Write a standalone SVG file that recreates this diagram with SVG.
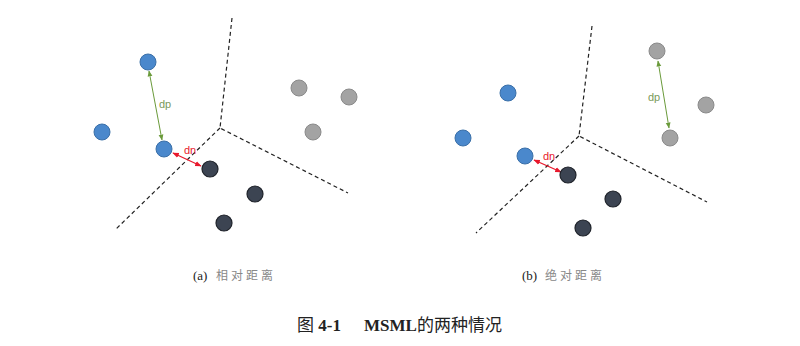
<svg xmlns="http://www.w3.org/2000/svg" width="800" height="346" viewBox="0 0 800 346">
<defs>
<style>
.bg{fill:#ffffff}
.div{fill:none;stroke:#222;stroke-width:1.2;stroke-dasharray:4 3}
.blue{fill:#4a88cc;stroke:#3a6fa8;stroke-width:1}
.gray{fill:#a3a3a3;stroke:#8a8a8a;stroke-width:1}
.dark{fill:#3c4452;stroke:#1f232a;stroke-width:1.2}
.dp{stroke:#6a9a3a;stroke-width:1;fill:none}
.dn{stroke:#e8182c;stroke-width:1.3;fill:none}
.lp{font-family:"Liberation Sans",sans-serif;font-size:11px;fill:#7a9a5a}
.ln{font-family:"Liberation Sans",sans-serif;font-size:11px;fill:#e8182c}
.cap{font-family:"Liberation Serif","Noto Sans CJK SC",serif;font-size:13px;fill:#222}
.capz{font-family:"Noto Sans CJK SC",sans-serif;font-size:12px;fill:#888}
.fig{font-family:"Liberation Serif","Noto Sans CJK SC",serif;font-size:17px;fill:#222}
</style>
<marker id="ag" viewBox="0 0 10 10" refX="9" refY="5" markerWidth="6" markerHeight="6" orient="auto-start-reverse"><path d="M0,1 L10,5 L0,9 z" fill="#6a9a3a"/></marker>
<marker id="ar" viewBox="0 0 10 10" refX="9" refY="5" markerWidth="5" markerHeight="5" orient="auto-start-reverse"><path d="M0,1 L10,5 L0,9 z" fill="#e8182c"/></marker>
</defs>
<rect class="bg" width="800" height="346"/>

<g id="panel-a-boundaries">
<polyline class="div" points="232,18 220,128 348,193"/>
<line class="div" x1="220" y1="128" x2="115" y2="230"/>
</g>
<g id="connectors-a">
<line class="dp" x1="149" y1="71" x2="162" y2="140" marker-start="url(#ag)" marker-end="url(#ag)"/>
<line class="dn" x1="173" y1="153" x2="201" y2="166" marker-start="url(#ar)" marker-end="url(#ar)"/>
<text class="lp" x="159" y="108">dp</text>
<text class="ln" x="184" y="154">dn</text>
</g>
<g id="a-blue1"><circle class="blue" cx="148" cy="62" r="8"/></g>
<g id="a-blue2"><circle class="blue" cx="102" cy="132" r="8"/></g>
<g id="a-blue3"><circle class="blue" cx="164" cy="149" r="8"/></g>
<g id="a-gray1"><circle class="gray" cx="299" cy="88" r="8"/></g>
<g id="a-gray2"><circle class="gray" cx="349" cy="97" r="8"/></g>
<g id="a-gray3"><circle class="gray" cx="313" cy="132" r="8"/></g>
<g id="a-dark1"><circle class="dark" cx="210" cy="169" r="8"/></g>
<g id="a-dark2"><circle class="dark" cx="255" cy="194" r="8"/></g>
<g id="a-dark3"><circle class="dark" cx="224" cy="223" r="8"/></g>

<g id="panel-b-boundaries">
<polyline class="div" points="592,26 579,136 707,202"/>
<line class="div" x1="579" y1="136" x2="476" y2="233"/>
</g>
<g id="connectors-b">
<line class="dp" x1="658" y1="61" x2="669" y2="128" marker-start="url(#ag)" marker-end="url(#ag)"/>
<line class="dn" x1="534" y1="160" x2="561" y2="172" marker-start="url(#ar)" marker-end="url(#ar)"/>
<text class="lp" x="648" y="101">dp</text>
<text class="ln" x="543" y="160">dn</text>
</g>
<g id="b-blue1"><circle class="blue" cx="508" cy="93" r="8"/></g>
<g id="b-blue2"><circle class="blue" cx="463" cy="138" r="8"/></g>
<g id="b-blue3"><circle class="blue" cx="525" cy="156" r="8"/></g>
<g id="b-gray1"><circle class="gray" cx="657" cy="51" r="8"/></g>
<g id="b-gray2"><circle class="gray" cx="706" cy="105" r="8"/></g>
<g id="b-gray3"><circle class="gray" cx="670" cy="138" r="8"/></g>
<g id="b-dark1"><circle class="dark" cx="568" cy="175" r="8"/></g>
<g id="b-dark2"><circle class="dark" cx="613" cy="199" r="8"/></g>
<g id="b-dark3"><circle class="dark" cx="583" cy="228" r="8"/></g>

<g id="captions">
<text class="cap" x="193" y="280">(a)</text>
<text class="capz" x="216" y="280" letter-spacing="3">相对距离</text>
<text class="cap" x="522" y="280">(b)</text>
<text class="capz" x="545" y="280" letter-spacing="3">绝对距离</text>
<text class="fig" x="297" y="331">图 <tspan font-weight="bold">4-1</tspan><tspan x="364" font-weight="bold">MSML</tspan><tspan font-family="Noto Sans CJK SC, sans-serif" font-size="17">的两种情况</tspan></text>
</g>
</svg>
